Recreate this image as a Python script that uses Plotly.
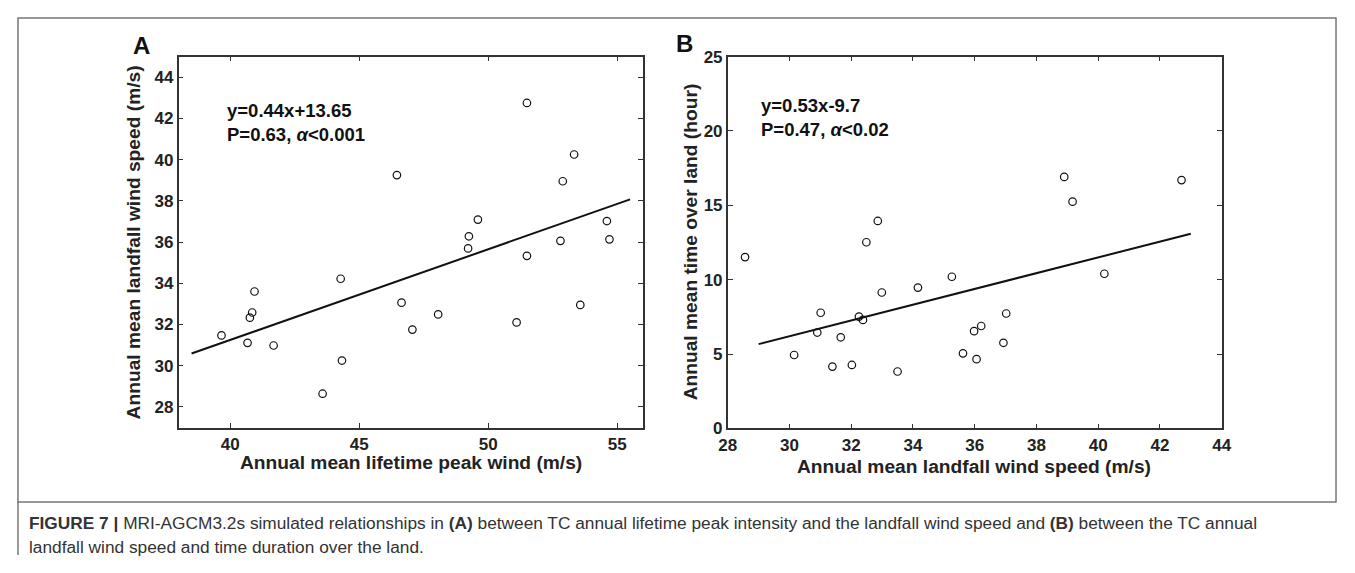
import plotly.graph_objects as go

# ---------------- data ----------------
# Panel A: lifetime peak wind (x) vs landfall wind speed (y)
a_peak_wind = [39.66, 40.67, 40.76, 40.85, 40.94, 41.68, 43.58, 44.28, 44.33, 46.46,
               46.64, 47.06, 48.06, 49.22, 49.25, 49.60, 51.10, 51.50, 51.50, 52.80,
               52.89, 53.33, 53.57, 54.60, 54.70]
a_landfall_wind = [31.47, 31.11, 32.33, 32.58, 33.60, 30.98, 28.64, 34.22, 30.25, 39.25,
                   33.06, 31.75, 32.49, 35.69, 36.28, 37.09, 32.10, 35.33, 42.75, 36.06,
                   38.95, 40.25, 32.95, 37.02, 36.13]
a_slope, a_intercept = 0.44, 13.65
a_fit_x = [38.5, 55.5]

# Panel B: landfall wind speed (x) vs time over land (y)
b_landfall_wind = [28.56, 30.15, 30.90, 31.01, 31.39, 31.66, 32.02, 32.25, 32.38, 32.49,
                   32.86, 32.99, 33.50, 34.16, 35.26, 35.62, 35.98, 36.06, 36.21, 36.93,
                   37.02, 38.90, 39.17, 40.20, 42.70]
b_time_over_land = [11.52, 4.94, 6.45, 7.78, 4.16, 6.13, 4.27, 7.52, 7.30, 12.52,
                    13.95, 9.14, 3.83, 9.47, 10.20, 5.05, 6.54, 4.66, 6.89, 5.76,
                    7.73, 16.91, 15.25, 10.40, 16.70]
b_slope, b_intercept = 0.53, -9.7
b_fit_x = [29.0, 43.0]

a_xticks = [40, 45, 50, 55]
a_yticks = [28, 30, 32, 34, 36, 38, 40, 42, 44]
b_xticks = [28, 30, 32, 34, 36, 38, 40, 42, 44]
b_yticks = [0, 5, 10, 15, 20, 25]

# ---------------- figure ----------------
# The page keeps the browser's 8px body margin, so the figure is 16px smaller
# than the window and every layout position below is given in window pixels.
OFF = 8
W, H = 1355 - 2 * OFF, 573 - 2 * OFF
def px(x):
    return min(max((x - OFF) / W, 0.0), 1.0)
def py(y):
    return min(max(1 - (y - OFF) / H, 0.0), 1.0)

fig = go.Figure()

marker = dict(symbol="circle-open", size=7.5, color="#111111", line=dict(width=1.2, color="#111111"))

fig.add_trace(go.Scatter(x=a_peak_wind, y=a_landfall_wind, mode="markers", marker=marker,
                         xaxis="x", yaxis="y", showlegend=False))
fig.add_trace(go.Scatter(x=a_fit_x, y=[a_slope * v + a_intercept for v in a_fit_x], mode="lines",
                         line=dict(color="#111111", width=2), xaxis="x", yaxis="y", showlegend=False))
fig.add_trace(go.Scatter(x=b_landfall_wind, y=b_time_over_land, mode="markers", marker=marker,
                         xaxis="x2", yaxis="y2", showlegend=False))
fig.add_trace(go.Scatter(x=b_fit_x, y=[b_slope * v + b_intercept for v in b_fit_x], mode="lines",
                         line=dict(color="#111111", width=2), xaxis="x2", yaxis="y2", showlegend=False))

tickfont = dict(family="Liberation Sans, Arial, sans-serif", size=17, color="#222222", weight="bold")
axis_common = dict(showgrid=False, zeroline=False, showline=True, linecolor="#333333", linewidth=1.6,
                   mirror="ticks", ticks="inside", ticklen=5, tickwidth=1.4, tickcolor="#333333",
                   tickfont=tickfont)

fig.update_layout(
    width=W, height=H,
    margin=dict(l=0, r=0, t=0, b=0),
    paper_bgcolor="white", plot_bgcolor="white",
    xaxis=dict(domain=[px(172), px(643)], range=[38, 56], tickvals=a_xticks, anchor="y", **axis_common),
    yaxis=dict(domain=[py(433), py(49)], range=[27, 45], tickvals=a_yticks, anchor="x", **axis_common),
    xaxis2=dict(domain=[px(729), px(1230)], range=[28, 44], tickvals=b_xticks, anchor="y2", **axis_common),
    yaxis2=dict(domain=[py(434), py(49)], range=[0, 25], tickvals=b_yticks, anchor="x2", **axis_common),
)

title_font = dict(family="Liberation Sans, Arial, sans-serif", size=19.2, color="#222222", weight="bold")
eq_font = dict(family="Liberation Sans, Arial, sans-serif", size=18.5, color="#111111", weight="bold")
letter_font = dict(family="Liberation Sans, Arial, sans-serif", size=24, color="#111111", weight="bold")
cap_font = dict(family="Liberation Sans, Arial, sans-serif", size=17.3, color="#333333")

ann = []
def add(text, x, y, font, xanchor="center", yanchor="middle", angle=0):
    ann.append(dict(text=text, x=px(x), y=py(y), xref="paper", yref="paper", showarrow=False,
                    font=font, xanchor=xanchor, yanchor=yanchor, textangle=angle))

add("A", 124, 37, letter_font, xanchor="left")
add("B", 674, 35, letter_font, xanchor="left")
add("Annual mean lifetime peak wind (m/s)", 408, 469, title_font)
add("Annual mean landfall wind speed (m/s)", 126, 241, title_font, angle=-90)
add("Annual mean landfall wind speed (m/s)", 979, 473, title_font)
add("Annual mean time over land (hour)", 691, 241, title_font, angle=-90)
add("y=0.44x+13.65", 219, 105, eq_font, xanchor="left")
add("P=0.63, <i>α</i><0.001", 219, 130, eq_font, xanchor="left")
add("y=0.53x-9.7", 761, 100, eq_font, xanchor="left")
add("P=0.47, <i>α</i><0.02", 761, 124, eq_font, xanchor="left")
add("<b>FIGURE 7 |</b> MRI-AGCM3.2s simulated relationships in <b>(A)</b> between TC annual lifetime peak intensity "
    "and the landfall wind speed and <b>(B)</b> between the TC annual", 18, 532, cap_font, xanchor="left")
add("landfall wind speed and time duration over the land.", 18, 557, cap_font, xanchor="left")

fig.update_layout(annotations=ann)

# outer frame of the figure panel
edge_r = (W - 1) / W
fig.add_shape(type="rect", xref="paper", yref="paper", x0=px(9), x1=min(px(1354), edge_r), y0=py(510), y1=py(9),
              line=dict(color="#777777", width=1.5), fillcolor="rgba(0,0,0,0)", layer="below")
fig.add_shape(type="line", xref="paper", yref="paper", x0=px(9), x1=px(9), y0=0, y1=py(510),
              line=dict(color="#777777", width=1.5))

fig.write_html("out.html", config={"displayModeBar": False})
